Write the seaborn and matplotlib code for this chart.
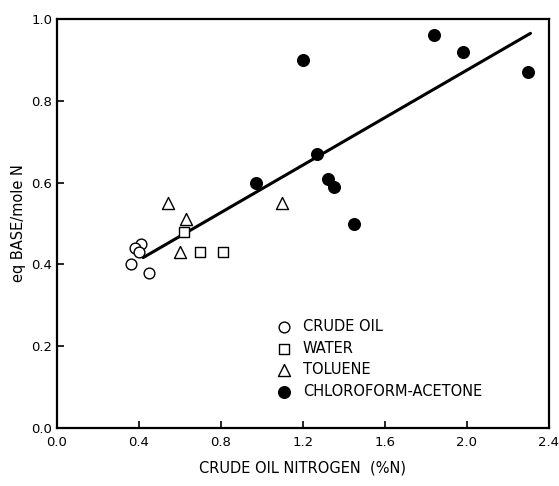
import numpy as np
import pandas as pd
import matplotlib
matplotlib.use("Agg")
import matplotlib.pyplot as plt
import seaborn as sns

# data
crude_x = [0.41, 0.38, 0.40, 0.36, 0.45]
crude_y = [0.45, 0.44, 0.43, 0.40, 0.38]

water_x = [0.62, 0.70, 0.81]
water_y = [0.48, 0.43, 0.43]

toluene_x = [0.54, 0.63, 0.60, 1.10]
toluene_y = [0.55, 0.51, 0.43, 0.55]

chloro_x = [1.84, 1.98, 2.30, 1.20, 1.27, 1.32, 1.35, 0.97, 1.45]
chloro_y = [0.96, 0.92, 0.87, 0.90, 0.67, 0.61, 0.59, 0.60, 0.50]

# straight line drawn through the data
fit_slope = 0.29
fit_intercept = 0.295
fit_range = [0.42, 2.31]

groups = [
    ("CRUDE OIL", crude_x, crude_y, "o", "white", 60),
    ("WATER", water_x, water_y, "s", "white", 55),
    ("TOLUENE", toluene_x, toluene_y, "^", "white", 75),
    ("CHLOROFORM-ACETONE", chloro_x, chloro_y, "o", "black", 70),
]

sns.set_style("ticks")
plt.rcParams['font.family'] = ['DejaVu Sans']
plt.rcParams['text.color'] = 'black'
plt.rcParams['axes.labelcolor'] = 'black'

fig = plt.figure(figsize=(5.59, 4.86), dpi=100)
ax = fig.add_axes([0.102, 0.119, 0.880, 0.842])

line_df = pd.DataFrame({"x": fit_range})
line_df["y"] = fit_intercept + fit_slope * line_df["x"]
sns.lineplot(data=line_df, x="x", y="y", color="black", linewidth=2.2, ax=ax)

for name, xs, ys, mk, fc, size in groups:
    df = pd.DataFrame({"x": xs, "y": ys})
    sns.scatterplot(data=df, x="x", y="y", marker=mk, s=size, facecolor=fc,
                    edgecolor="black", linewidth=1.0, label=name, ax=ax, zorder=3)

ax.set_xlim(0, 2.4)
ax.set_ylim(0, 1.0)
ax.set_xticks(np.arange(0, 2.41, 0.4))
ax.set_yticks(np.arange(0, 1.01, 0.2))
ax.set_xticklabels(["0.0", "0.4", "0.8", "1.2", "1.6", "2.0", "2.4"])
ax.set_yticklabels(["0.0", "0.2", "0.4", "0.6", "0.8", "1.0"])
ax.tick_params(direction="in", length=5, width=1.2, labelsize=9.5, colors="black")
ax.tick_params(axis="x", pad=6)
for sp in ax.spines.values():
    sp.set_linewidth(1.6)
    sp.set_color("black")

ax.set_xlabel("CRUDE OIL NITROGEN  (%N)", fontsize=10.5, labelpad=8)
ax.set_ylabel("eq BASE/mole N", fontsize=10.5, labelpad=4)

leg = ax.legend(loc="lower left", bbox_to_anchor=(0.405, 0.04), frameon=False,
                fontsize=10.5, handletextpad=0.3, labelspacing=0.45, markerscale=1.0)
for t in leg.get_texts():
    t.set_color("black")

fig.savefig("out.png", dpi=100)
